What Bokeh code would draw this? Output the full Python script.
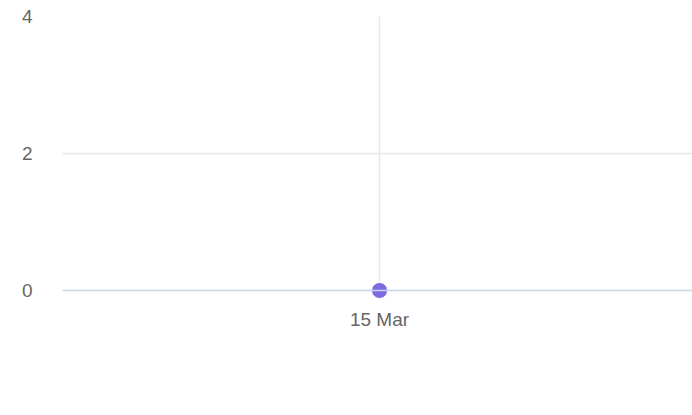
from datetime import datetime
from bokeh.plotting import figure
from bokeh.models import Range1d, FixedTicker, ColumnDataSource, CustomJSTickFormatter, Span
from bokeh.embed import file_html
from bokeh.resources import INLINE

dates = [datetime(2024, 3, 15)]
values = [0]
x_labels = ["15 Mar"]
y_ticks = [0, 2, 4]

t = [d.timestamp() * 1000 for d in dates]
day = 86400000.0

src = ColumnDataSource(dict(x=t, y=values))
grid_src = ColumnDataSource(dict(x=t, y0=[min(y_ticks)] * len(t), y1=[max(y_ticks)] * len(t)))

pad = 0.146  # room below zero so the marker is not clipped
p = figure(width=692, height=407, output_backend="svg", toolbar_location=None,
           x_range=Range1d(t[0] - 1.013 * day, t[0] + day),
           y_range=Range1d(min(y_ticks) - pad, max(y_ticks)),
           min_border_left=62, min_border_right=0, min_border_top=16, min_border_bottom=107)
p.outline_line_color = None
p.background_fill_color = "white"
p.border_fill_color = "white"

# vertical grid line at the date tick, only from 0 up
p.segment(x0="x", y0="y0", x1="x", y1="y1", source=grid_src, line_color="#e8e8e8", line_width=1.5)
p.add_layout(Span(location=0, dimension="width", line_color="#ccd6eb", line_width=1.5))

p.scatter("x", "y", source=src, size=16, fill_color="#7e6be1", line_color="white", line_width=1)

p.xaxis.ticker = FixedTicker(ticks=t)
p.xaxis.formatter = CustomJSTickFormatter(args=dict(lbls=x_labels, tvals=t),
    code="const i = tvals.indexOf(tick); return i >= 0 ? lbls[i] : '';")
p.xaxis.axis_line_color = None
p.xaxis.major_tick_line_color = None
p.xaxis.minor_tick_line_color = None
p.xaxis.major_tick_out = 0
p.xaxis.major_tick_in = 0
p.xaxis.major_label_text_font = "Liberation Sans"
p.xaxis.major_label_text_font_size = "19px"
p.xaxis.major_label_text_color = "#666666"
p.xaxis.major_label_standoff = 8

p.yaxis.ticker = FixedTicker(ticks=y_ticks)
p.yaxis.axis_line_color = None
p.yaxis.major_tick_line_color = None
p.yaxis.minor_tick_line_color = None
p.yaxis.major_tick_out = 0
p.yaxis.major_tick_in = 0
p.yaxis.major_label_text_font = "Liberation Sans"
p.yaxis.major_label_text_font_size = "19px"
p.yaxis.major_label_text_color = "#666666"
p.yaxis.major_label_standoff = 30

p.xgrid.grid_line_color = None
p.ygrid.grid_line_color = "#e8e8e8"
p.ygrid.grid_line_width = 1.5

open("out.html", "w").write(file_html(p, INLINE))
